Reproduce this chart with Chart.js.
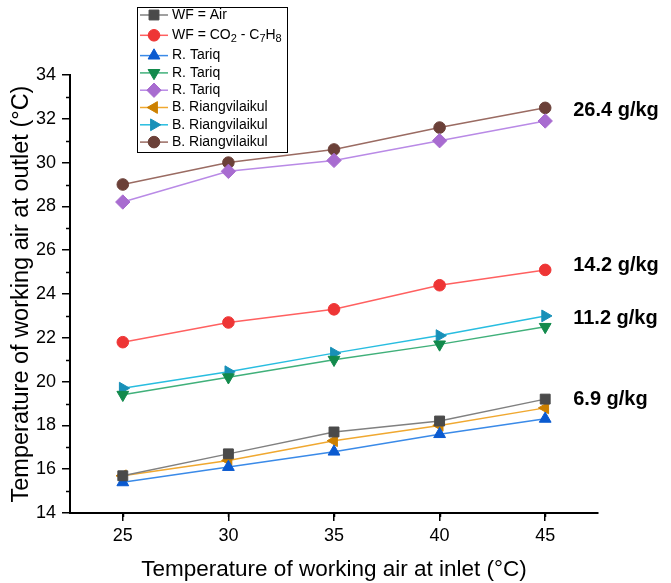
<!DOCTYPE html>
<html>
<head>
<meta charset="utf-8">
<script src="https://cdn.jsdelivr.net/npm/chart.js@4.4.0/dist/chart.umd.min.js"></script>
<style>
  html, body { margin: 0; padding: 0; background: #fff; }
</style>
</head>
<body>
<canvas id="grafico" width="671" height="583"></canvas>
<script>
// inlet temperature (x) and outlet temperature of each series (y)
const inlet = [25, 30, 35, 40, 45]
const wfAir = [15.7, 16.7, 17.7, 18.2, 19.2]
const wfCo2 = [21.8, 22.7, 23.3, 24.4, 25.1]
const tariqA = [15.4, 16.1, 16.8, 17.6, 18.3]
const tariqB = [19.4, 20.2, 21.0, 21.7, 22.5]
const tariqC = [28.2, 29.6, 30.1, 31.0, 31.9]
const riangA = [15.7, 16.4, 17.3, 18.0, 18.8]
const riangB = [19.7, 20.45, 21.3, 22.1, 23.0]
const riangC = [29.0, 30.0, 30.6, 31.6, 32.5]

const nomes = ["WF = Air", "WF = CO_2 - C_7H_8", "R. Tariq", "R. Tariq", "R. Tariq",
  "B. Riangvilaikul", "B. Riangvilaikul", "B. Riangvilaikul"]

const xTicks = [25, 30, 35, 40, 45]
const yTicks = [14, 16, 18, 20, 22, 24, 26, 28, 30, 32, 34]

// humidity ratio labels and the outlet temperature they sit at
const umidade = ["26.4 g/kg", "14.2 g/kg", "11.2 g/kg", "6.9 g/kg"]
const umidadeY = [32.4, 25.3, 22.9, 19.2]

const FONTE = "'Liberation Sans', Arial, sans-serif"

function serie(label, valores, cor, corLinha, estilo, rot, raio){
  return {
    label,
    data: valores.map((v, i) => ({ x: inlet[i], y: v })),
    borderColor: corLinha,
    backgroundColor: cor,
    borderWidth: 1.5,
    pointStyle: estilo,
    rotation: rot,
    pointRadius: raio,
    pointBackgroundColor: cor,
    pointBorderColor: cor,
    pointBorderWidth: 1,
    tension: 0,
  }
}

const datasets = [
  serie(nomes[0], wfAir, "#4a4a4a", "#808080", "rect", 0, 7),
  serie(nomes[1], wfCo2, "#ee3535", "#ff6060", "circle", 0, 5.8),
  serie(nomes[2], tariqA, "#0a5ad0", "#3a8ae8", "triangle", 0, 6.8),
  serie(nomes[3], tariqB, "#128a4c", "#40b07a", "triangle", 180, 6.8),
  serie(nomes[4], tariqC, "#a86cd0", "#b98ae6", "rectRot", 0, 7.2),
  serie(nomes[5], riangA, "#cc8000", "#f0a830", "triangle", 270, 6.8),
  serie(nomes[6], riangB, "#1890b8", "#28bde0", "triangle", 90, 6.8),
  serie(nomes[7], riangC, "#6b4038", "#9a6b62", "circle", 0, 5.8),
]

// legend with border, drawn by hand so subscripts work
const legenda = {
  id: "legenda",
  afterDraw(chart){
    const ctx = chart.ctx
    ctx.save()
    ctx.strokeStyle = "#000"
    ctx.lineWidth = 1
    ctx.strokeRect(137.5, 7.5, 150, 145)
    chart.data.datasets.forEach((ds, i) => {
      const y = 15 + i * 17.3 + (i >= 1 ? 3 : 0) + (i >= 2 ? 3 : 0)
      ctx.strokeStyle = ds.borderColor
      ctx.lineWidth = 1.5
      ctx.beginPath()
      ctx.moveTo(140, y)
      ctx.lineTo(168, y)
      ctx.stroke()
      ctx.fillStyle = ds.pointBackgroundColor
      ctx.strokeStyle = ds.pointBorderColor
      ctx.lineWidth = 1
      Chart.helpers.drawPoint(ctx, { pointStyle: ds.pointStyle, rotation: ds.rotation, radius: ds.pointRadius, borderWidth: 1 }, 154, y)
      // text, "_x" means subscript x
      ctx.fillStyle = "#000"
      ctx.textBaseline = "middle"
      ctx.textAlign = "left"
      let x = 172
      const partes = ds.label.split(/(_\d)/)
      partes.forEach(p => {
        if (!p) return
        if (p[0] === "_"){
          ctx.font = "11px " + FONTE
          ctx.fillText(p[1], x, y + 4)
          x += ctx.measureText(p[1]).width
        } else {
          ctx.font = "14px " + FONTE
          ctx.fillText(p, x, y)
          x += ctx.measureText(p).width
        }
      })
    })
    ctx.restore()
  }
}

// minor ticks between the labelled ones
const ticksMenores = {
  id: "ticksMenores",
  afterDraw(chart){
    const ctx = chart.ctx
    const sx = chart.scales.x, sy = chart.scales.y
    ctx.save()
    ctx.strokeStyle = "#000"
    ctx.lineWidth = 1.5
    ctx.beginPath()
    for (let v = sx.min + 2.5; v <= sx.max; v += 5){
      const px = Math.round(sx.getPixelForValue(v)) + 0.5
      ctx.moveTo(px, sx.top)
      ctx.lineTo(px, sx.top + 4)
    }
    for (let v = sy.min + 1; v < sy.max; v += 2){
      const py = Math.round(sy.getPixelForValue(v)) + 0.5
      ctx.moveTo(sy.right, py)
      ctx.lineTo(sy.right - 4, py)
    }
    ctx.stroke()
    ctx.restore()
  }
}

const rotulos = {
  id: "rotulos",
  afterDatasetsDraw(chart){
    const ctx = chart.ctx
    const sx = chart.scales.x, sy = chart.scales.y
    ctx.save()
    ctx.font = "bold 20px " + FONTE
    ctx.fillStyle = "#000"
    ctx.textAlign = "left"
    ctx.textBaseline = "middle"
    umidade.forEach((t, i) => {
      ctx.fillText(t, sx.getPixelForValue(inlet[inlet.length - 1]) + 28, sy.getPixelForValue(umidadeY[i]))
    })
    ctx.restore()
  }
}

const ctx = document.getElementById("grafico").getContext("2d")
new Chart(ctx, {
  type: "line",
  data: { datasets },
  plugins: [ticksMenores, rotulos, legenda],
  options: {
    responsive: false,
    animation: false,
    devicePixelRatio: 1,
    layout: { padding: { top: 75, right: 73, left: 0, bottom: 0 } },
    plugins: { legend: { display: false }, tooltip: { enabled: false } },
    scales: {
      x: {
        type: "linear",
        min: 22.5,
        max: 47.5,
        afterBuildTicks: s => { s.ticks = xTicks.map(v => ({ value: v })) },
        afterFit: s => { s.height = 70 },
        ticks: { color: "#000", font: { family: FONTE, size: 18 }, padding: 4 },
        grid: { drawOnChartArea: false, color: "#000", tickLength: 8, lineWidth: 1.5 },
        border: { color: "#000", width: 2 },
        title: {
          display: true,
          text: "Temperature of working air at inlet (°C)",
          color: "#000",
          font: { family: FONTE, size: 22.5 },
          padding: { top: 0, bottom: 0 },
        },
      },
      y: {
        min: 14,
        max: 34,
        afterBuildTicks: s => { s.ticks = yTicks.map(v => ({ value: v })) },
        afterFit: s => { s.width = 70 },
        ticks: { color: "#000", font: { family: FONTE, size: 18 }, padding: 6 },
        grid: { drawOnChartArea: false, color: "#000", tickLength: 8, lineWidth: 1.5 },
        border: { color: "#000", width: 2 },
        title: {
          display: true,
          text: "Temperature of working air at outlet (°C)",
          color: "#000",
          font: { family: FONTE, size: 23.5 },
          padding: { top: 7, bottom: 0 },
        },
      },
    },
  },
})
</script>
</body>
</html>
